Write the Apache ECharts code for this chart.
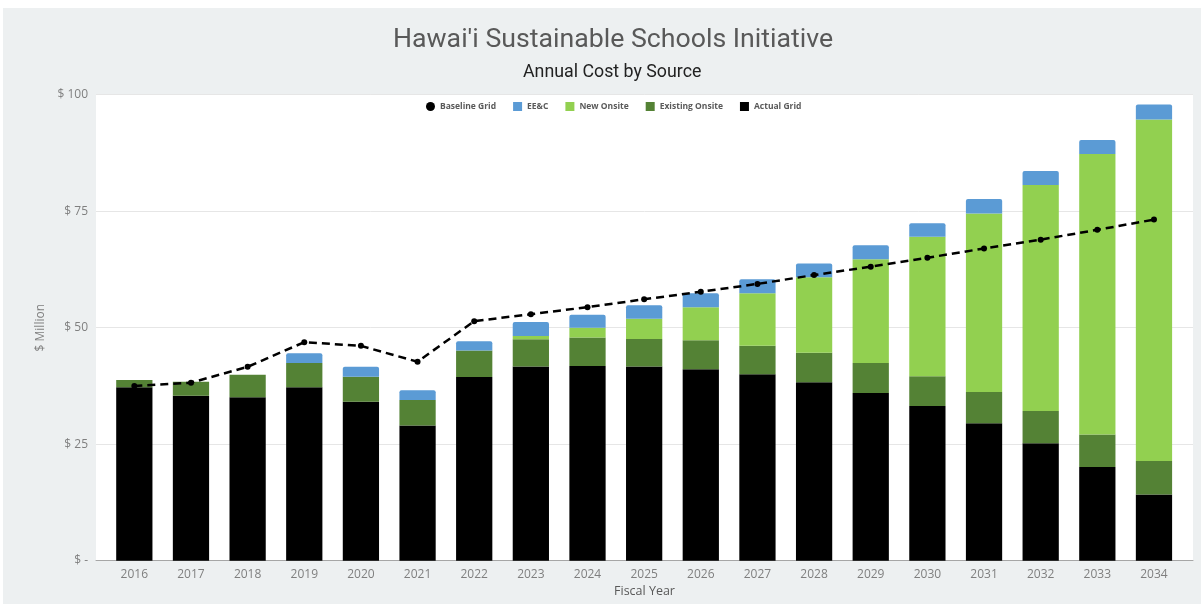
<!DOCTYPE html>
<html>
<head>
<meta charset="utf-8">
<script src="https://cdn.jsdelivr.net/npm/echarts@6/dist/echarts.min.js"></script>
<style>
  html, body { margin: 0; padding: 0; background: #ffffff; }
  #chart { position: absolute; left: 3px; top: 8px; width: 1198px; height: 596px; }
</style>
</head>
<body>
<div id="chart"></div>
<script>
const years = ['2016','2017','2018','2019','2020','2021','2022','2023','2024','2025','2026','2027','2028','2029','2030','2031','2032','2033','2034'];
const actualGrid = [37.2, 35.4, 35.1, 37.2, 34.1, 29.0, 39.4, 41.7, 41.8, 41.7, 41.1, 40.0, 38.3, 36.0, 33.2, 29.5, 25.2, 20.1, 14.2];
const existingOnsite = [1.6, 3.0, 4.8, 5.2, 5.4, 5.5, 5.7, 5.8, 6.1, 5.9, 6.2, 6.1, 6.3, 6.4, 6.4, 6.7, 6.9, 7.0, 7.2];
const newOnsite = [0, 0, 0, 0, 0, 0, 0, 0.7, 2.1, 4.3, 7.1, 11.3, 16.2, 22.3, 29.9, 38.3, 48.5, 60.2, 73.3];
const eeAndC = [0, 0, 0, 2.1, 2.1, 2.1, 2.0, 3.0, 2.8, 2.9, 3.0, 3.0, 3.0, 3.0, 2.9, 3.1, 3.0, 3.0, 3.2];
const baselineGrid = [37.5, 38.2, 41.6, 46.9, 46.1, 42.7, 51.4, 52.9, 54.4, 56.1, 57.7, 59.4, 61.3, 63.1, 65.0, 67.0, 68.9, 71.0, 73.2];
const yTicks = [0, 25, 50, 75, 100];

const chart = echarts.init(document.getElementById('chart'), null, { renderer: 'canvas' });
const txt = '#7f7f7f';
const option = {
  backgroundColor: '#edf0f1',
  animation: false,
  title: [
    { text: "Hawai'i Sustainable Schools Initiative", left: 385, top: 14,
      textStyle: { fontFamily: 'Roboto', fontSize: 26.7, fontWeight: 'normal', color: '#595959' } },
    { text: 'Annual Cost by Source', left: 515, top: 51,
      textStyle: { fontFamily: 'Roboto', fontSize: 17.8, fontWeight: 'normal', color: '#222222' } }
  ],
  legend: {
    top: 89, left: 418,
    itemWidth: 9, itemHeight: 9, itemGap: 17,
    textStyle: { fontFamily: 'Open Sans', fontSize: 8.5, fontWeight: 'bold', color: '#595959' },
    data: [
      { name: 'Baseline Grid', icon: 'circle' },
      { name: 'EE&C', icon: 'rect' },
      { name: 'New Onsite', icon: 'rect' },
      { name: 'Existing Onsite', icon: 'rect' },
      { name: 'Actual Grid', icon: 'rect' }
    ]
  },
  grid: [
    { left: 93, right: 8, top: 86.7, bottom: 43.3, show: true, backgroundColor: '#ffffff', borderWidth: 0,
      outerBoundsMode: 'none', containLabel: false },
    { left: 103, right: 18.7, top: 86.7, bottom: 43.3, outerBoundsMode: 'none', containLabel: false }
  ],
  xAxis: [
    { type: 'value', gridIndex: 0, min: 0, max: 1, show: true,
      axisLine: { show: true, lineStyle: { color: '#a6a6a6', width: 1 } },
      axisTick: { show: false }, axisLabel: { show: false }, splitLine: { show: false },
      name: 'Fiscal Year', nameLocation: 'middle', nameGap: 24,
      nameTextStyle: { fontFamily: 'Open Sans', fontSize: 12.5, color: '#595959' } },
    { type: 'category', gridIndex: 1, data: years, boundaryGap: true,
      axisLine: { show: false }, axisTick: { show: false },
      axisLabel: { fontFamily: 'Open Sans', fontSize: 12, color: txt, margin: 8 } }
  ],
  yAxis: [
    { type: 'value', gridIndex: 0, min: 0, max: 100, interval: 25,
      axisLine: { show: false }, axisTick: { show: false },
      axisLabel: { fontFamily: 'Open Sans', fontSize: 12, color: txt, margin: 8,
        formatter: v => yTicks.indexOf(v) === 0 ? '$ -' : '$ ' + v },
      splitLine: { show: true, lineStyle: { color: '#e6e6e6', width: 1 } },
      name: '$ Million', nameLocation: 'middle', nameGap: 49, nameRotate: 90,
      nameTextStyle: { fontFamily: 'Open Sans', fontSize: 12, color: txt } },
    { type: 'value', gridIndex: 1, min: 0, max: 100, interval: 25, show: false }
  ],
  series: [
    { name: 'Actual Grid', type: 'bar', stack: 'cost', xAxisIndex: 1, yAxisIndex: 1,
      barWidth: '64%', data: actualGrid, itemStyle: { color: '#000000' } },
    { name: 'Existing Onsite', type: 'bar', stack: 'cost', xAxisIndex: 1, yAxisIndex: 1,
      data: existingOnsite, itemStyle: { color: '#548235' } },
    { name: 'New Onsite', type: 'bar', stack: 'cost', xAxisIndex: 1, yAxisIndex: 1,
      data: newOnsite, itemStyle: { color: '#92d050' } },
    { name: 'EE&C', type: 'bar', stack: 'cost', xAxisIndex: 1, yAxisIndex: 1,
      data: eeAndC, itemStyle: { color: '#5b9bd5', borderRadius: [2, 2, 0, 0] } },
    { name: 'Baseline Grid', type: 'line', xAxisIndex: 1, yAxisIndex: 1,
      data: baselineGrid, symbol: 'circle', symbolSize: 6, z: 5,
      lineStyle: { color: '#000000', width: 2.5, type: [8, 5] },
      itemStyle: { color: '#000000' } }
  ]
};
chart.setOption(option);
</script>
</body>
</html>
